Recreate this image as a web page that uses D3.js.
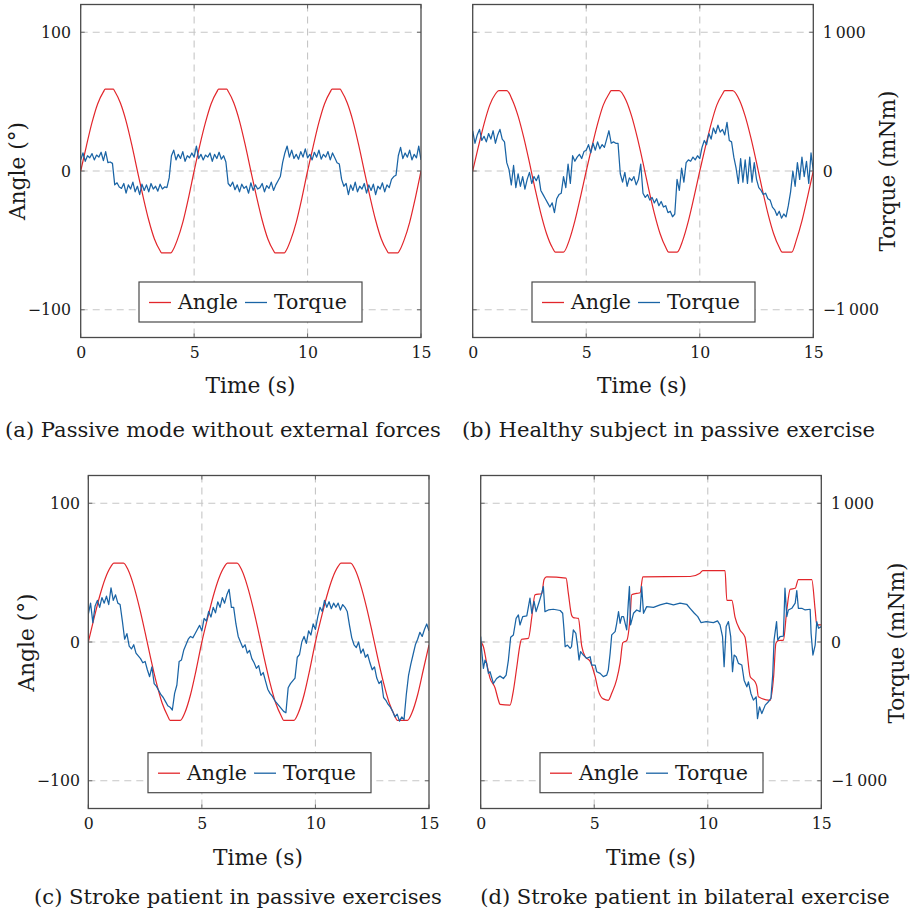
<!DOCTYPE html>
<html><head><meta charset="utf-8">
<script src="https://cdn.jsdelivr.net/npm/d3@7/dist/d3.min.js"></script>
<style>
body{margin:0;background:#fff}
svg{display:block}
text{font-family:'DejaVu Serif',serif;fill:#1a1a1a}
</style>
</head><body>
<svg id="chart" width="914" height="917"></svg>
<script>
// ---------------- DATA ----------------
const xTicks = [0, 5, 10, 15];
const angleTicks = [-100, 0, 100];
const torqueTicks = [-1000, 0, 1000];
const legendLabels = ["Angle", "Torque"];
const captions = [
  "(a) Passive mode without external forces",
  "(b) Healthy subject in passive exercise",
  "(c) Stroke patient in passive exercises",
  "(d) Stroke patient in bilateral exercise"
];
const xLabel = "Time (s)";
const angleLabel = "Angle (°)";
const torqueLabel = "Torque (mNm)";

// torque sample grid for (a)-(c): every 0.1 s
const sampleTimes = d3.range(151).map(i => i / 10);

// (a) angle (deg)
const angleA_t = [0,0.25,0.5,0.75,1.0,1.08,1.44,1.5,1.75,2.0,2.25,2.5,2.75,3.0,3.25,3.5,3.56,3.98,4.05,4.25,4.5,4.75,
  5,5.25,5.5,5.75,6.0,6.08,6.44,6.5,6.75,7.0,7.25,7.5,7.75,8.0,8.25,8.5,8.56,8.98,9.05,9.25,9.5,9.75,
  10,10.25,10.5,10.75,11.0,11.08,11.44,11.5,11.75,12.0,12.25,12.5,12.75,13.0,13.25,13.5,13.56,13.98,14.05,14.25,14.5,14.75,15];
const angleA_v = [0,18,35,48.5,57,59,59,57.5,49,36,19,0,-18.5,-35.5,-49,-57.5,-59,-59,-57.5,-50,-37,-19.5,
  0,18.5,35,48.5,57,59,59,57.5,49,36,19,0,-18.5,-35.5,-49,-57.5,-59,-59,-57.5,-50,-37,-19.5,
  0,18,35,48.5,57,59,59,57.5,49,36,19,0,-18.5,-35.5,-49,-57.5,-59,-59,-57.5,-50,-37,-19.5,0];
// (a) torque (mNm), 0.1 s grid
const torqueA = [
  80,130,70,110,95,125,80,115,100,135,
  75,140,60,65,55,-100,-85,-115,-125,-90,
  -160,-100,-130,-80,-150,-110,-170,-95,-140,-100,
  -150,-90,-130,-110,-145,-95,-130,-115,-120,-50,
  110,150,80,120,90,140,70,110,95,130,
  100,180,90,120,80,115,100,130,70,120,
  90,135,85,110,65,-90,-110,-80,-135,-100,
  -150,-95,-125,-110,-160,-85,-140,-100,-130,-120,
  -90,-150,-105,-125,-80,-140,-100,-70,-40,60,
  130,180,100,150,90,120,85,140,100,160,
  95,120,80,135,100,150,85,120,100,140,
  80,130,95,60,50,-60,-110,-90,-170,-100,
  -140,-80,-150,-110,-130,-90,-160,-100,-140,-95,
  -170,-110,-130,-85,-150,-100,-120,-60,-40,-30,
  110,170,90,130,100,150,80,120,95,180,
  80];

// (b) angle
const angleB_t = [0,0.25,0.5,0.75,1.0,1.15,1.5,1.75,2.0,2.25,2.5,2.75,3.0,3.25,3.5,3.64,4.0,4.25,4.5,4.75,
  5,5.25,5.5,5.75,6.0,6.1,6.45,6.75,7.0,7.25,7.5,7.75,8.0,8.25,8.5,8.63,9.0,9.25,9.5,9.75,
  10,10.25,10.5,10.75,11.0,11.1,11.45,11.75,12.0,12.25,12.5,12.75,13.0,13.25,13.5,13.63,14.05,14.25,14.5,14.75,15];
const angleB_v = [0,17.5,34,47.5,55.5,58,58,51,39.5,24,6,-13,-30.5,-45,-55,-58.5,-58.5,-50,-36,-18.5,
  0,17.5,34,47.5,55.5,58,58,51,39.5,24,6,-13,-30.5,-45,-55,-58.5,-58.5,-50,-36,-18.5,
  0,17.5,34,47.5,55.5,58,58,51,39.5,24,6,-13,-30.5,-45,-55,-58.5,-58.5,-50,-36,-18.5,0];
const torqueB = [
  290,200,260,300,220,250,210,270,230,290,
  200,260,300,230,210,60,10,-100,40,-120,
  -20,-110,-40,-130,-60,-10,-90,-40,-70,-30,
  -140,-170,-200,-230,-260,-230,-300,-200,-170,-160,
  -40,-120,50,-90,110,70,100,120,90,140,
  150,190,130,200,150,210,160,190,170,230,
  290,200,210,200,200,-20,-80,-10,-110,-50,
  -70,-40,-100,-60,50,-160,-190,-170,-210,-190,
  -230,-200,-250,-220,-260,-250,-300,-290,-330,-310,
  -60,-140,20,-80,60,80,70,100,80,110,
  90,170,220,190,270,230,310,270,330,280,
  300,260,350,220,210,100,20,-90,90,-80,
  80,-90,100,-80,60,-60,-120,-140,-170,-160,
  -200,-210,-260,-280,-320,-290,-340,-310,-330,-250,
  -150,0,-110,60,-60,100,-40,70,-90,130,
  0];

// (c) angle
const angleC_t = [0,0.25,0.5,0.75,1.0,1.12,1.55,1.75,2.0,2.25,2.5,2.75,3.0,3.25,3.5,3.6,4.05,4.25,4.5,4.75,
  5,5.25,5.5,5.75,6.0,6.12,6.55,6.75,7.0,7.25,7.5,7.75,8.0,8.25,8.5,8.6,9.05,9.25,9.5,9.75,
  10,10.25,10.5,10.75,11.0,11.12,11.55,11.75,12.0,12.25,12.5,12.75,13.0,13.25,13.5,13.6,14.05,14.25,14.5,14.75,15];
const angleC_v = [0,17,33,46,54.5,56.8,56.8,52,40.5,25,7,-12,-29.5,-44,-53.5,-56.5,-56.5,-51,-38,-20,
  0,17,33,46,54.5,56.8,56.8,52,40.5,25,7,-12,-29.5,-44,-53.5,-56.5,-56.5,-51,-38,-20,
  0,17,33,46,54.5,56.8,56.8,52,40.5,25,7,-12,-29.5,-44,-53.5,-56.5,-56.5,-51,-38,-20,-2];
const torqueC = [
  200,280,140,260,300,250,320,280,330,270,
  390,300,340,280,270,150,20,60,-30,-50,
  -20,-80,-100,-120,-150,-140,-200,-250,-180,-300,
  -320,-350,-380,-400,-430,-460,-470,-490,-370,-310,
  -140,-130,-60,-20,20,40,30,60,90,120,
  80,170,150,220,180,250,210,290,250,320,
  280,340,380,250,250,130,40,0,-40,-20,
  -80,-60,-120,-150,-190,-170,-240,-220,-280,-340,
  -370,-390,-420,-440,-460,-480,-500,-510,-330,-300,
  -280,-260,-110,-90,0,40,-10,80,50,130,
  90,180,250,220,300,250,290,240,280,250,
  280,230,270,250,220,120,30,-20,-40,0,
  -80,-50,-110,-90,-150,-200,-180,-260,-300,-280,
  -400,-420,-450,-470,-500,-540,-520,-570,-540,-560,
  -380,-240,-160,-90,-20,20,70,40,90,130,
  80];

// (d) angle
const angleD_t = [0,0.12,0.26,0.41,0.63,0.78,0.85,1.29,1.44,1.59,1.73,1.8,2.1,2.25,2.39,2.69,2.79,2.9,
  3.76,3.86,4.0,4.08,4.3,4.45,4.6,4.82,5.04,5.18,5.4,5.62,5.77,5.99,6.14,6.26,6.43,6.58,6.65,6.87,
  7.02,7.14,9.22,9.66,9.78,10.76,10.84,11.06,11.2,11.42,11.64,11.72,11.87,12.08,12.16,12.23,12.75,12.9,
  13.0,13.1,13.33,13.48,13.63,13.85,13.99,14.58,14.73,14.8,15];
const angleD_v = [0,-3.4,-15,-26,-33,-42,-45,-45.5,-35,-18,-2,2,2.6,18,34,35,45,47,
  46,35,19.5,17.6,17,-3,-10.6,-14,-25,-35,-41,-42,-37,-27,-15,-0.5,1,18,34,35,
  35.5,47,47.2,49.6,51.5,51.5,30,30,18,8.7,3.4,-5.8,-25,-28.6,-32,-39.5,-42,-25,
  -1,1,1.4,23,38,38.7,45,45,23,12.3,12.3];
// (d) torque
const torqueD_t = [0,0.04,0.12,0.19,0.26,0.34,0.41,0.56,0.7,0.85,1.0,1.12,1.22,1.32,1.44,1.56,1.66,1.73,1.85,2.03,
  2.17,2.25,2.35,2.44,2.58,2.69,2.76,2.83,2.98,3.2,3.5,3.61,3.67,3.72,3.82,3.94,4.0,4.08,4.19,4.26,
  4.33,4.4,4.52,4.67,4.82,4.89,5.04,5.11,5.26,5.4,5.55,5.62,5.7,5.77,5.92,5.99,6.07,6.14,6.21,6.29,
  6.43,6.5,6.55,6.6,6.73,6.87,7.02,7.09,7.17,7.31,7.61,7.9,8.19,8.49,8.78,9.07,9.22,9.41,9.56,9.7,
  9.93,10.25,10.43,10.54,10.65,10.72,10.81,10.91,11.01,11.09,11.16,11.25,11.35,11.5,11.6,11.72,11.79,11.9,12.01,12.13,
  12.19,12.28,12.38,12.53,12.67,12.78,12.86,12.92,12.98,13.03,13.08,13.18,13.33,13.4,13.48,13.55,13.7,13.85,13.92,13.99,
  14.14,14.29,14.51,14.55,14.63,14.73,14.8,14.88,15];
const torqueD_v = [39,-58,-190,-130,-154,-226,-214,-299,-263,-246,-263,-239,-130,34,51,171,195,123,183,188,
  316,207,292,219,292,352,400,219,231,236,227,207,87,-34,-22,-46,-34,87,63,-22,
  -130,-70,-94,-118,-106,-166,-166,-214,-226,-250,-239,-202,-82,51,75,135,219,135,183,183,
  87,280,400,123,207,231,219,400,207,255,250,268,280,268,280,272,243,207,183,140,
  147,140,152,123,39,-178,111,147,39,-214,-94,-106,-154,-166,-275,-323,-287,-371,-419,-395,
  -552,-467,-516,-455,-431,-407,-239,14,87,147,14,39,43,388,183,231,243,280,371,243,
  243,231,236,63,-94,-22,147,99,111];

// ---------------- LAYOUT / STYLE ----------------
const RED = "#e2262b", BLUE = "#1a64a5", GRID = "#c6c6c6", FRAME = "#4a4a4a";
const panels = [
  {xr:[80.7,421], yr:[337.5,4.5], aT:angleA_t, aV:angleA_v, tT:sampleTimes, tV:torqueA,
   side:"left", tickPos:71, legend:[139,282], cap:[223,437], capText:captions[0],
   ylab:[25,171], timeLab:[250.5,392.5]},
  {xr:[472.7,813.3], yr:[337.5,4.5], aT:angleB_t, aV:angleB_v, tT:sampleTimes, tV:torqueB,
   side:"right", tickPos:822.7, legend:[532,282], cap:[668.5,437], capText:captions[1],
   ylab:[895,171], timeLab:[642,392.5]},
  {xr:[88.3,429], yr:[808.5,475.5], aT:angleC_t, aV:angleC_v, tT:sampleTimes, tV:torqueC,
   side:"left", tickPos:80, legend:[148,752.7], cap:[238,904], capText:captions[2],
   ylab:[33.5,642.5], timeLab:[258,864.5]},
  {xr:[480.7,821.3], yr:[808.5,475.5], aT:angleD_t, aV:angleD_v, tT:torqueD_t, tV:torqueD_v,
   side:"right", tickPos:831, legend:[540,752.7], cap:[685,904], capText:captions[3],
   ylab:[903.5,643], timeLab:[651,864.5]}
];

const svg = d3.select("#chart");
function fit(str, target) {
  const t = svg.append("text").attr("font-size", 100).text(str);
  const w = t.node().getComputedTextLength();
  t.remove();
  return 100 * target / w;
}
const fsCaption = fit(captions[0], 436);
const fsLabel = fit(xLabel, 90);
const fsLegend = fit(legendLabels[0], 60);
const fsTick = fit("100", 30);

const torqueFmt = d3.formatLocale({decimal:".", thousands:"\u2009", grouping:[3], currency:["",""], minus:"\u2212"}).format(",");
const angleFmt = d3.format("");

panels.forEach((p, i) => {
  const x = d3.scaleLinear().domain([0, 15]).range(p.xr);
  const y = d3.scaleLinear().domain([-120, 120]).range(p.yr);
  const yT = d3.scaleLinear().domain([-1200, 1200]).range(p.yr);
  const g = svg.append("g");
  const [x0, x1] = p.xr, [yb, yt] = p.yr;

  // grid
  g.selectAll(".vg").data(xTicks.filter(d => d > 0 && d < 15)).join("line")
    .attr("x1", d => x(d)).attr("x2", d => x(d)).attr("y1", yt).attr("y2", yb)
    .attr("stroke", GRID).attr("stroke-width", 1.1).attr("stroke-dasharray", "7,5");
  g.selectAll(".hg").data(angleTicks).join("line")
    .attr("x1", x0).attr("x2", x1).attr("y1", d => y(d)).attr("y2", d => y(d))
    .attr("stroke", GRID).attr("stroke-width", 1.1).attr("stroke-dasharray", "7,5");
  // inner ticks
  angleTicks.forEach(d => {
    [[x0, x0 + 4], [x1 - 4, x1]].forEach(([a, b]) =>
      g.append("line").attr("x1", a).attr("x2", b).attr("y1", y(d)).attr("y2", y(d))
        .attr("stroke", "#6a6a6a").attr("stroke-width", 1));
  });
  xTicks.forEach(d => {
    [[yb, yb - 4], [yt, yt + 4]].forEach(([a, b]) =>
      g.append("line").attr("x1", x(d)).attr("x2", x(d)).attr("y1", a).attr("y2", b)
        .attr("stroke", "#6a6a6a").attr("stroke-width", 1));
  });

  // clip
  const cid = "clip" + i;
  svg.append("clipPath").attr("id", cid).append("rect")
    .attr("x", x0).attr("y", yt).attr("width", x1 - x0).attr("height", yb - yt);

  const angleData = p.aT.map((t, k) => [t, p.aV[k]]);
  const torqueData = p.tT.map((t, k) => [t, p.tV[k]]);
  const lineA = d3.line().x(d => x(d[0])).y(d => y(d[1])).curve(d3.curveMonotoneX);
  const lineT = d3.line().x(d => x(d[0])).y(d => yT(d[1]));
  g.append("path").datum(angleData).attr("d", lineA).attr("fill", "none")
    .attr("stroke", RED).attr("stroke-width", 1.2).attr("clip-path", `url(#${cid})`);
  g.append("path").datum(torqueData).attr("d", lineT).attr("fill", "none")
    .attr("stroke", BLUE).attr("stroke-width", 1.25).attr("stroke-linejoin", "round")
    .attr("clip-path", `url(#${cid})`);

  // frame
  g.append("rect").attr("x", x0).attr("y", yt).attr("width", x1 - x0).attr("height", yb - yt)
    .attr("fill", "none").attr("stroke", FRAME).attr("stroke-width", 1.3);

  // x axis labels
  const ax = g.append("g").attr("transform", `translate(0,${yb})`)
    .call(d3.axisBottom(x).tickValues(xTicks).tickSize(0).tickPadding(9.5).tickFormat(d3.format("")));
  ax.select(".domain").remove();
  ax.attr("font-family", "'DejaVu Serif',serif").attr("font-size", fsTick);
  ax.selectAll("text").attr("fill", "#1a1a1a");

  // y axis labels
  if (p.side === "left") {
    const ay = g.append("g").attr("transform", `translate(${x0},0)`)
      .call(d3.axisLeft(y).tickValues(angleTicks).tickSize(0).tickPadding(x0 - p.tickPos).tickFormat(angleFmt));
    ay.select(".domain").remove();
    ay.attr("font-family", "'DejaVu Serif',serif").attr("font-size", fsTick);
    ay.selectAll("text").attr("fill", "#1a1a1a");
    g.append("text").attr("transform", `translate(${p.ylab[0]},${p.ylab[1]}) rotate(-90)`)
      .attr("text-anchor", "middle").attr("font-size", fsLabel).text(angleLabel);
  } else {
    const ay = g.append("g").attr("transform", `translate(${x1},0)`)
      .call(d3.axisRight(yT).tickValues(torqueTicks).tickSize(0).tickPadding(p.tickPos - x1).tickFormat(torqueFmt));
    ay.select(".domain").remove();
    ay.attr("font-family", "'DejaVu Serif',serif").attr("font-size", fsTick);
    ay.selectAll("text").attr("fill", "#1a1a1a");
    g.append("text").attr("transform", `translate(${p.ylab[0]},${p.ylab[1]}) rotate(-90)`)
      .attr("text-anchor", "middle").attr("font-size", fsLabel).text(torqueLabel);
  }

  // x label
  g.append("text").attr("x", p.timeLab[0]).attr("y", p.timeLab[1])
    .attr("text-anchor", "middle").attr("font-size", fsLabel).text(xLabel);

  // legend
  const [lx, ly] = p.legend;
  const lg = g.append("g").attr("transform", `translate(${lx},${ly})`);
  lg.append("rect").attr("width", 223).attr("height", 40).attr("fill", "#fff")
    .attr("stroke", FRAME).attr("stroke-width", 1.2);
  const entries = [{c: RED, t: legendLabels[0], x: 10}, {c: BLUE, t: legendLabels[1], x: 106}];
  entries.forEach(e => {
    lg.append("line").attr("x1", e.x).attr("x2", e.x + 22).attr("y1", 20.5).attr("y2", 20.5)
      .attr("stroke", e.c).attr("stroke-width", 1.3);
    lg.append("text").attr("x", e.x + 29).attr("y", 27).attr("font-size", fsLegend).text(e.t);
  });

  // caption
  svg.append("text").attr("x", p.cap[0]).attr("y", p.cap[1]).attr("text-anchor", "middle")
    .attr("font-size", fsCaption).text(p.capText);
});
</script>
</body></html>
